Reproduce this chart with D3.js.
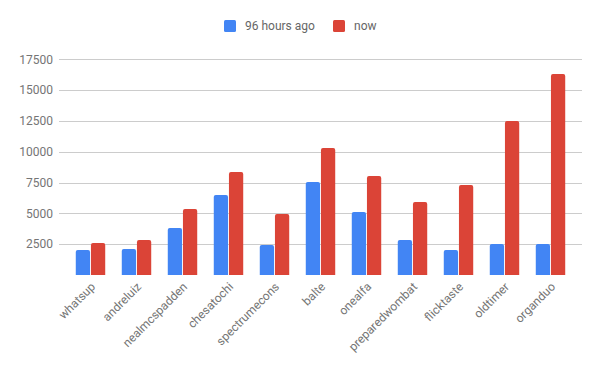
<!DOCTYPE html>
<html>
<head>
<meta charset="utf-8">
<script src="https://cdn.jsdelivr.net/npm/d3@7"></script>
<style>
  body { margin: 0; background: #fff; }
  text { font-family: Roboto, Arial, sans-serif; }
</style>
</head>
<body>
<div id="chart"></div>
<script>
const categories = ["whatsup", "andreluiz", "nealmcspadden", "chesatochi", "spectrumecons",
    "balte", "onealfa", "preparedwombat", "flicktaste", "oldtimer", "organduo"];
const seriesNames = ["96 hours ago", "now"];
const before = [2030, 2110, 3820, 6490, 2440, 7550, 5110, 2840, 2030, 2520, 2520];
const now = [2600, 2840, 5360, 8360, 4950, 10310, 8040, 5930, 7300, 12500, 16320];
const yTicks = [2500, 5000, 7500, 10000, 12500, 15000, 17500];
const colors = ["#4285f4", "#db4437"];

const width = 600, height = 371;

const svg = d3.select("#chart").append("svg")
    .attr("width", width)
    .attr("height", height);

const y = d3.scaleLinear().domain([0, 17500]).range([275, 59.4]);

const x = d3.scaleBand()
    .domain(categories)
    .range([67.5, 573.5])
    .paddingInner(0.36)
    .paddingOuter(0.18);

const xs = d3.scaleBand()
    .domain(seriesNames)
    .range([0, x.bandwidth()])
    .paddingInner(0.06);

// gridlines + y labels
const grid = svg.append("g");
grid.selectAll("line")
    .data(yTicks)
    .join("line")
    .attr("x1", 59).attr("x2", 582)
    .attr("y1", d => Math.round(y(d)) + 0.5)
    .attr("y2", d => Math.round(y(d)) + 0.5)
    .attr("stroke", "#cccccc");

grid.selectAll("text")
    .data(yTicks)
    .join("text")
    .attr("x", 53)
    .attr("y", d => y(d))
    .attr("dy", "0.35em")
    .attr("text-anchor", "end")
    .style("font-size", "12px")
    .style("fill", "#757575")
    .text(d => d);

// bars with rounded tops
function barPath(x0, w, yTop, yBase) {
    const r = Math.min(2, (yBase - yTop) / 2);
    return `M${x0},${yBase}V${yTop + r}Q${x0},${yTop} ${x0 + r},${yTop}H${x0 + w - r}Q${x0 + w},${yTop} ${x0 + w},${yTop + r}V${yBase}Z`;
}

const rows = categories.map((c, i) => ({ cat: c, vals: [before[i], now[i]] }));

const groups = svg.append("g").selectAll("g")
    .data(rows)
    .join("g")
    .attr("transform", d => `translate(${x(d.cat)},0)`);

groups.selectAll("path")
    .data(d => d.vals.map((v, j) => ({ s: seriesNames[j], v: v, j: j })))
    .join("path")
    .attr("fill", d => colors[d.j])
    .attr("d", d => barPath(xs(d.s), xs.bandwidth(), y(d.v), y(0)));

// x labels
svg.append("g").selectAll("text")
    .data(categories)
    .join("text")
    .attr("transform", d => `translate(${x(d) + x.bandwidth() / 2 + 5.5},${287.5}) rotate(-45)`)
    .attr("text-anchor", "end")
    .style("font-size", "12px")
    .style("fill", "#757575")
    .text(d => d);

// legend
const legend = svg.append("g");
const legendX = [224, 333];
seriesNames.forEach((name, i) => {
    legend.append("rect")
        .attr("x", legendX[i]).attr("y", 20)
        .attr("width", 12).attr("height", 12)
        .attr("rx", 1.5)
        .attr("fill", colors[i]);
    legend.append("text")
        .attr("x", legendX[i] + 21)
        .attr("y", 26)
        .attr("dy", "0.35em")
        .style("font-size", "12px")
        .style("fill", "#666")
        .text(name);
});
</script>
</body>
</html>
